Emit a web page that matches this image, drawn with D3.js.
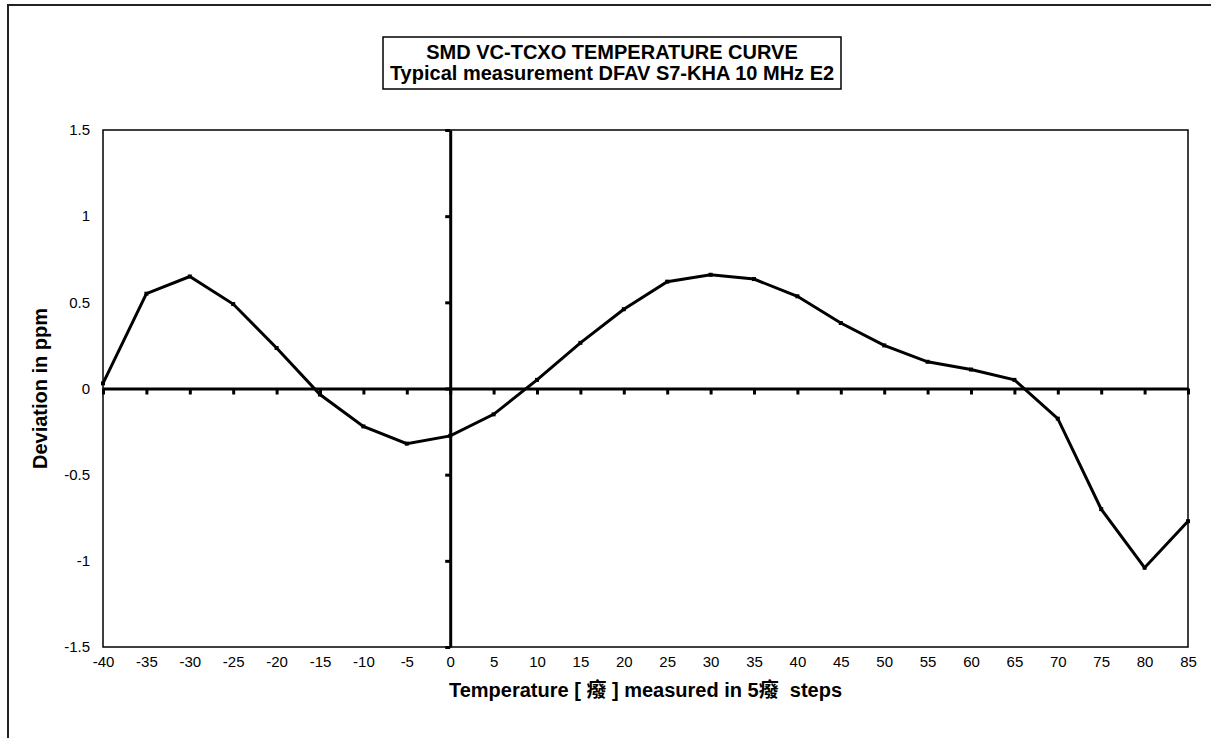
<!DOCTYPE html>
<html>
<head>
<meta charset="utf-8">
<script src="https://cdn.jsdelivr.net/npm/d3@7"></script>
<style>
  body { margin: 0; background: #fff; }
  svg { font-family: "Liberation Sans", Arial, "Noto Sans CJK TC", sans-serif; }
</style>
</head>
<body>
<svg width="1211" height="738"></svg>
<script>
// temperature steps (x categories)
var temps = ["-40","-35","-30","-25","-20","-15","-10","-5","0","5","10","15","20","25","30","35","40","45","50","55","60","65","70","75","80","85"];
// deviation in ppm
var deviation = [0.03,0.55,0.65,0.49,0.235,-0.035,-0.22,-0.32,-0.275,-0.15,0.05,0.265,0.46,0.62,0.66,0.635,0.535,0.38,0.25,0.155,0.11,0.05,-0.175,-0.70,-1.04,-0.77];
var yTicks = [-1.5,-1,-0.5,0,0.5,1,1.5];
var titleLines = ["SMD VC-TCXO TEMPERATURE CURVE", "Typical measurement DFAV S7-KHA 10 MHz E2"];
var xTitle = "Temperature [ 癈 ] measured in 5癈  steps";
var yTitle = "Deviation in ppm";

var data = temps.map(function(t, i) { return { t: t, v: deviation[i] }; });

var svg = d3.select("svg");
var plot = { left: 103, right: 1188, top: 130, bottom: 647 };

// outer chart frame (runs off the right and bottom edge)
svg.append("rect")
    .attr("x", 8).attr("y", 5)
    .attr("width", 1300).attr("height", 900)
    .attr("fill", "none")
    .attr("stroke", "#222")
    .attr("stroke-width", 2);

var x = d3.scalePoint()
    .domain(temps)
    .range([plot.left, plot.right]);

var y = d3.scaleLinear()
    .domain([-1.5, 1.5])
    .range([plot.bottom, plot.top]);

// plot area border
svg.append("rect")
    .attr("x", plot.left).attr("y", plot.top)
    .attr("width", plot.right - plot.left)
    .attr("height", plot.bottom - plot.top)
    .attr("fill", "none")
    .attr("stroke", "#000")
    .attr("stroke-width", 1.5);

// y tick labels on the left edge
var yLab = svg.append("g")
    .attr("transform", "translate(" + plot.left + ",0)")
    .call(d3.axisLeft(y).tickValues(yTicks).tickSize(0).tickPadding(13)
        .tickFormat(function(d) { return String(d); }));
yLab.select(".domain").remove();
yLab.selectAll("text").attr("font-size", 15).attr("fill", "#000")
    .attr("font-family", "Liberation Sans, Arial, sans-serif");

// x tick labels below the plot
var xLab = svg.append("g")
    .attr("transform", "translate(0," + plot.bottom + ")")
    .call(d3.axisBottom(x).tickSize(0).tickPadding(9));
xLab.select(".domain").remove();
xLab.selectAll("text").attr("font-size", 15).attr("fill", "#000")
    .attr("font-family", "Liberation Sans, Arial, sans-serif");

// horizontal zero axis with ticks below
var xAxis = svg.append("g")
    .attr("transform", "translate(0," + y(0) + ")")
    .call(d3.axisBottom(x).tickSize(6).tickSizeOuter(0).tickFormat(""));
xAxis.select(".domain").attr("stroke-width", 3);
xAxis.selectAll(".tick line").attr("stroke-width", 3);

// vertical axis at 0 degrees, ticks to the left
var yAxis = svg.append("g")
    .attr("transform", "translate(" + x("0") + ",0)")
    .call(d3.axisLeft(y).tickValues(yTicks).tickSize(5).tickSizeOuter(0).tickFormat(""));
yAxis.select(".domain").attr("stroke-width", 3);
yAxis.selectAll(".tick line").attr("stroke-width", 3);

// the curve
var line = d3.line()
    .x(function(d) { return x(d.t); })
    .y(function(d) { return y(d.v); });

svg.append("path")
    .datum(data)
    .attr("fill", "none")
    .attr("stroke", "#000")
    .attr("stroke-width", 3)
    .attr("stroke-linejoin", "miter")
    .attr("d", line);

svg.selectAll("rect.pt")
    .data(data)
    .enter()
    .append("rect")
    .attr("class", "pt")
    .attr("x", function(d) { return x(d.t) - 2; })
    .attr("y", function(d) { return y(d.v) - 2; })
    .attr("width", 4).attr("height", 4)
    .attr("fill", "#000");

// title box
var tb = { x: 383, y: 37, w: 458, h: 52 };
svg.append("rect")
    .attr("x", tb.x).attr("y", tb.y)
    .attr("width", tb.w).attr("height", tb.h)
    .attr("fill", "#fff")
    .attr("stroke", "#000")
    .attr("stroke-width", 1.5);

svg.selectAll("text.title")
    .data(titleLines)
    .enter()
    .append("text")
    .attr("class", "title")
    .attr("x", tb.x + tb.w / 2)
    .attr("y", function(d, i) { return 59 + i * 21; })
    .attr("text-anchor", "middle")
    .attr("font-size", 20)
    .attr("font-weight", "bold")
    .text(function(d) { return d; });

// axis titles
svg.append("text")
    .attr("transform", "translate(47," + y(0) + ") rotate(-90)")
    .attr("text-anchor", "middle")
    .attr("font-size", 20)
    .attr("font-weight", "bold")
    .text(yTitle);

svg.append("text")
    .attr("x", (plot.left + plot.right) / 2)
    .attr("y", 697)
    .attr("text-anchor", "middle")
    .attr("font-size", 20)
    .attr("font-weight", "bold")
    .style("white-space", "pre")
    .text(xTitle);
</script>
</body>
</html>
